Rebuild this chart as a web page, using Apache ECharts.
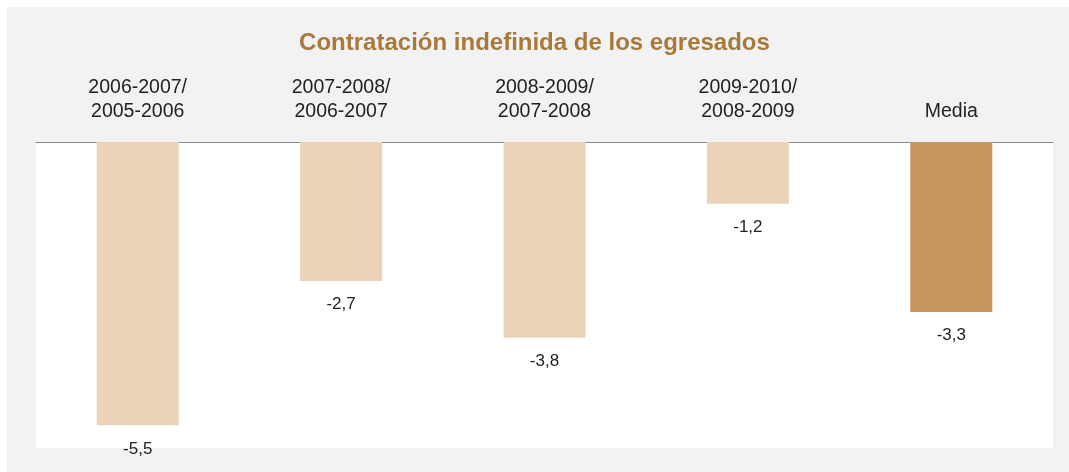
<!DOCTYPE html>
<html>
<head>
<meta charset="utf-8">
<script src="https://cdn.jsdelivr.net/npm/echarts@6/dist/echarts.min.js"></script>
<style>
html,body{margin:0;padding:0;background:#fff;}
#c{width:1069px;height:472px;}
</style>
</head>
<body>
<div id="c"></div>
<script>
const categories = ["2006-2007/\n2005-2006", "2007-2008/\n2006-2007", "2008-2009/\n2007-2008", "2009-2010/\n2008-2009", "Media"];
const values = [-5.5, -2.7, -3.8, -1.2, -3.3];
const barColors = ["#ead3b9", "#ead3b9", "#ead3b9", "#ead3b9", "#c9955e"];
const titleText = "Contratación indefinida de los egresados";

const chart = echarts.init(document.getElementById('c'), null, {renderer: 'canvas'});
chart.setOption({
  backgroundColor: '#fff',
  animation: false,
  graphic: [{
    type: 'rect', z: -10, silent: true,
    shape: {x: 7, y: 7, width: 1062, height: 465},
    style: {fill: '#f2f2f2'}
  }],
  title: {
    text: titleText,
    left: 'center',
    top: 26,
    textStyle: {fontFamily: 'Liberation Sans', fontSize: 24, fontWeight: 'bold', color: '#a8793a'}
  },
  grid: {
    left: 36, right: 16, top: 142, bottom: 24,
    show: true, backgroundColor: '#fff', borderWidth: 0
  },
  xAxis: {
    type: 'category',
    position: 'top',
    data: categories,
    axisLine: {show: true, lineStyle: {color: '#888', width: 1}},
    axisTick: {show: false},
    axisLabel: {
      interval: 0, margin: 18,
      fontFamily: 'Liberation Sans', fontSize: 19.5, lineHeight: 24, color: '#222'
    }
  },
  yAxis: {
    type: 'value',
    min: -5.94, max: 0,
    show: false,
    splitLine: {show: false}
  },
  series: [{
    type: 'bar',
    barWidth: 82,
    data: values.map((v, i) => ({value: v, itemStyle: {color: barColors[i]}})),
    label: {
      show: true,
      position: 'bottom',
      distance: 15,
      fontFamily: 'Liberation Sans', fontSize: 17, color: '#222',
      formatter: p => String(p.value).replace('.', ',')
    }
  }]
});
</script>
</body>
</html>
